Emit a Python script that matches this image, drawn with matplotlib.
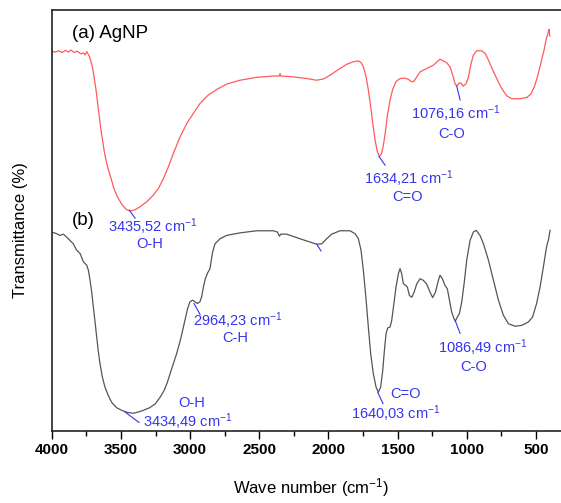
#!/usr/bin/env python
# coding=utf-8

import matplotlib
matplotlib.use('Agg')
import matplotlib.pyplot as plt
from matplotlib.ticker import MultipleLocator

plt.rcParams['font.family'] = ['Liberation Sans', 'DejaVu Sans']
plt.rcParams['mathtext.default'] = 'regular'

# curve (a) AgNP - wave number / transmittance (arbitrary units)
wn_a = [4000, 3975, 3950, 3925, 3900, 3880, 3860, 3840, 3815, 3790, 3770, 3759, 3747,
        3728, 3716, 3704, 3692, 3680, 3668, 3656, 3644, 3631, 3620, 3608, 3591, 3571,
        3550, 3526, 3494, 3463, 3434, 3398, 3362, 3313, 3266, 3230, 3193, 3157, 3121,
        3073, 3024, 2977, 2928, 2868, 2808, 2735, 2639, 2518, 2398, 2355, 2350, 2345,
        2254, 2158, 2085, 2037, 1989, 1917, 1868, 1820, 1784, 1765, 1748, 1728, 1712,
        1695, 1680, 1663, 1647, 1632, 1618, 1603, 1589, 1574, 1555, 1536, 1512, 1483,
        1447, 1422, 1398, 1381, 1362, 1338, 1314, 1278, 1242, 1194, 1170, 1146, 1122,
        1102, 1086, 1073, 1059, 1045, 1025, 1006, 989, 972, 953, 929, 893, 868, 844,
        813, 784, 748, 712, 676, 616, 567, 538, 514, 490, 466, 442, 428, 418, 411, 406,
        401]
t_a = [90.2, 90.0, 90.3, 89.9, 90.4, 90.0, 90.5, 89.9, 90.2, 89.6, 89.8, 89.3, 90.1,
       89.0, 87.7, 86.1, 83.7, 81.0, 77.8, 74.6, 71.4, 68.7, 66.3, 64.3, 62.1, 59.9,
       57.5, 55.6, 53.8, 52.6, 52.2, 52.5, 53.2, 54.4, 56.0, 57.5, 59.9, 62.7, 65.9,
       69.8, 73.0, 75.4, 77.8, 79.8, 81.1, 82.4, 83.3, 84.0, 84.3, 84.3, 84.9, 84.3,
       84.1, 83.7, 83.3, 83.6, 84.5, 86.1, 87.1, 87.7, 87.9, 87.5, 86.5, 84.1, 81.0,
       77.0, 73.0, 69.0, 66.3, 65.2, 65.7, 67.9, 71.0, 75.0, 78.6, 81.1, 83.0, 83.7,
       83.8, 83.5, 82.9, 83.1, 84.1, 85.3, 85.7, 86.3, 86.9, 88.3, 87.9, 87.5, 86.5,
       84.5, 82.5, 81.9, 82.5, 82.7, 81.9, 82.5, 84.0, 86.9, 89.3, 90.3, 90.3, 89.7, 88.1,
       85.7, 83.7, 81.3, 79.6, 78.9, 78.9, 79.2, 80.0, 81.6, 84.1, 87.3, 90.5, 92.9, 94.0,
       94.8, 95.4, 93.8]

# curve (b)
wn_b = [4000, 3964, 3940, 3916, 3892, 3868, 3844, 3820, 3795, 3771, 3759, 3747, 3735,
        3723, 3711, 3699, 3687, 3675, 3663, 3651, 3634, 3615, 3591, 3567, 3530, 3494,
        3453, 3410, 3374, 3338, 3294, 3253, 3217, 3188, 3164, 3133, 3097, 3068, 3037,
        3018, 3001, 2982, 2965, 2948, 2929, 2916, 2904, 2890, 2873, 2856, 2847, 2837,
        2820, 2784, 2736, 2640, 2519, 2398, 2369, 2355, 2345, 2302, 2206, 2133, 2085,
        2049, 2013, 1977, 1917, 1844, 1808, 1784, 1765, 1748, 1728, 1712, 1695, 1676,
        1656, 1640, 1623, 1608, 1596, 1584, 1572, 1555, 1543, 1526, 1512, 1495, 1483,
        1471, 1459, 1442, 1430, 1415, 1398, 1381, 1362, 1338, 1314, 1290, 1266, 1247,
        1227, 1206, 1194, 1177, 1158, 1141, 1126, 1110, 1093, 1083, 1069, 1054, 1037,
        1020, 1001, 977, 953, 933, 905, 880, 844, 808, 772, 736, 700, 652, 604, 556,
        525, 496, 471, 447, 428, 419, 411, 399]
t_b = [47.2, 46.8, 46.4, 46.7, 46.0, 45.2, 44.4, 42.9, 42.1, 40.1, 39.7, 39.3, 38.1,
       35.7, 32.9, 29.4, 25.8, 22.2, 18.7, 15.9, 12.7, 10.3, 8.3, 6.7, 5.4, 4.8,
       4.3, 4.1, 4.4, 4.8, 5.4, 6.3, 7.9, 9.5, 11.5, 14.7, 18.3, 21.8, 26.2,
       29.0, 30.6, 31.0, 30.6, 30.2, 30.6, 31.9, 34.1, 36.1, 37.5, 38.5, 40.5, 42.5,
       44.4, 45.6, 46.4, 47.0, 47.5, 47.5, 47.2, 46.2, 46.7, 46.7, 45.6, 44.8, 44.3,
       44.4, 45.6, 46.7, 47.5, 47.5, 46.8, 45.6, 42.9, 38.1, 31.0, 24.6, 18.3, 13.5,
       10.3, 9.1, 10.3, 14.3, 19.0, 23.0, 24.4, 24.6, 26.2, 30.6, 34.1, 37.3, 38.5,
       37.3, 34.9, 34.5, 34.1, 32.1, 31.7, 32.9, 34.9, 36.1, 35.7, 34.8, 32.9, 31.6,
       32.9, 35.7, 36.9, 36.1, 34.5, 33.7, 31.0, 28.2, 26.6, 26.0, 27.0, 27.8, 30.6,
       34.9, 40.5, 45.2, 47.2, 47.6, 46.4, 44.4, 40.5, 35.7, 31.0, 27.4, 25.4, 24.8, 25.0, 25.8,
       27.0, 30.2, 34.1, 38.9, 42.9, 44.4, 45.2, 47.6]

# peak labels: (text, x, y) and pointer segments
blue = '#3535f0'
labels = [
    ('3435,52 cm$^{-1}$', 3272, 48.4), ('O-H', 3289, 44.3),
    ('1634,21 cm$^{-1}$', 1418, 59.8), ('C=O', 1432, 55.5),
    ('1076,16 cm$^{-1}$', 1078, 75.3), ('C-O', 1107, 70.5),
    ('2964,23 cm$^{-1}$', 2657, 26.2), ('C-H', 2675, 21.9),
    ('O-H', 2986, 6.5), ('3434,49 cm$^{-1}$', 3019, 2.2),
    ('C=O', 1447, 8.8), ('1640,03 cm$^{-1}$', 1512, 4.1),
    ('1086,49 cm$^{-1}$', 887, 19.6), ('C-O', 948, 15.0),
]
pointers = [
    ((3439, 3398), (52.4, 50.5)),
    ((1635, 1591), (65.2, 63.1)),
    ((1073, 1049), (81.9, 78.6)),
    ((2972, 2928), (30.2, 27.6)),
    ((3470, 3369), (4.4, 1.9)),
    ((1643, 1606), (9.0, 6.4)),
    ((1085, 1049), (26.2, 23.1)),
    ((2085, 2054), (44.3, 42.7)),
]

fig = plt.figure(figsize=(5.61, 5.03), dpi=100)
# right edge of the frame falls outside the picture, as in the original
ax = fig.add_axes([0.0922, 0.1441, 0.925, 0.8360])

ax.plot(wn_a, t_a, color='#ff5a5a', linewidth=0.9)
ax.plot(wn_b, t_b, color='#555555', linewidth=0.9)

for xs, ys in pointers:
    ax.plot(xs, ys, color=blue, linewidth=0.8)
for txt, x, y in labels:
    ax.text(x, y, txt, color=blue, fontsize=10.5, ha='center', va='center')

ax.text(3855, 94.5, '(a) AgNP', fontsize=13.5, ha='left', va='center')
ax.text(3855, 50.0, '(b)', fontsize=13.5, ha='left', va='center')

ax.set_xlim(4000, 250)
ax.set_ylim(0, 100)
ax.xaxis.set_major_locator(MultipleLocator(500))
ax.xaxis.set_minor_locator(MultipleLocator(250))
ax.tick_params(axis='x', which='major', direction='out', length=6, width=1.0, pad=3)
ax.tick_params(axis='x', which='minor', direction='out', length=3.5, width=1.0)
ax.set_yticks([])
for lab in ax.get_xticklabels():
    lab.set_fontweight('bold')
    lab.set_fontsize(11)
for sp in ax.spines.values():
    sp.set_linewidth(1.2)
    sp.set_color('#222222')

ax.set_xlabel('Wave number (cm$^{-1}$)', fontsize=12, labelpad=14)
fig.text(0.037, 1 - 230 / 503., 'Transmittance (%)', rotation=90,
         fontsize=12, ha='center', va='center')

plt.savefig('out.png', dpi=100)
